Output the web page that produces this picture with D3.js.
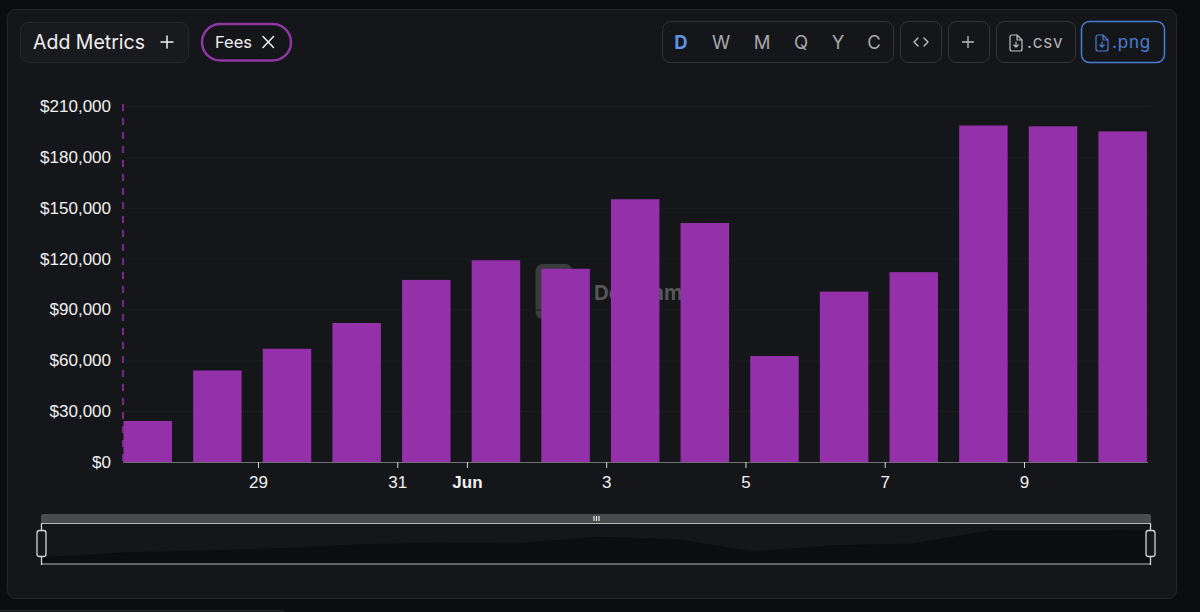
<!DOCTYPE html>
<html>
<head>
<meta charset="utf-8">
<script src="https://cdn.jsdelivr.net/npm/d3@7"></script>
<style>
  html, body { margin: 0; padding: 0; background: #0b0c0e; overflow: hidden; }
  svg { display: block; }
  .ui { font-family: Inter, sans-serif; }
  .axis { font-family: "Liberation Sans", Arial, sans-serif; }
</style>
</head>
<body>
<div id="chart"></div>
<script>
const days = ["2025-05-27","2025-05-28","2025-05-29","2025-05-30","2025-05-31","2025-06-01","2025-06-02","2025-06-03",
              "2025-06-04","2025-06-05","2025-06-06","2025-06-07","2025-06-08","2025-06-09","2025-06-10"];
const fees = [24200,54000,66800,82000,107400,119000,114000,155000,141000,62500,100500,112000,198500,198000,195000];
const yTicks = [0,30000,60000,90000,120000,150000,180000,210000];
const xTickDays = ["2025-05-29","2025-05-31","2025-06-01","2025-06-03","2025-06-05","2025-06-07","2025-06-09"];
const xTickLabels = ["29","31","Jun","3","5","7","9"];
const periods = ["D","W","M","Q","Y","C"];

const width = 1200, height = 612;
const parseDay = d3.utcParse("%Y-%m-%d");
const purple = "#9330aa";
const panel = "#151619";

const svg = d3.select("#chart").append("svg")
    .attr("width", width)
    .attr("height", height);

// panels
svg.append("rect").attr("x", 7.5).attr("y", 9.5).attr("width", 1169).attr("height", 589).attr("rx", 8)
    .attr("fill", panel).attr("stroke", "#26272a");
svg.append("rect").attr("x", -10).attr("y", 610.5).attr("width", 295).attr("height", 20).attr("rx", 4)
    .attr("fill", panel).attr("stroke", "#26272a");

// bars sit 10 hours after midnight on this axis
const barTime = d => d3.utcHour.offset(parseDay(d), 10);
const x = d3.scaleUtc()
    .domain([parseDay("2025-05-29"), parseDay("2025-06-09")])
    .range([258, 1024]);
const y = d3.scaleLinear().domain([0, 210000]).range([462, 106]);
const barWidth = 48.5;

// watermark
const mark = svg.append("g");
mark.append("rect").attr("x", 535.5).attr("y", 264).attr("width", 37).attr("height", 55).attr("rx", 7).attr("fill", "#3a3b3d");
mark.append("text").attr("class", "ui").attr("x", 594).attr("y", 300).attr("font-size", 20.5).attr("font-weight", 700)
    .attr("fill", "#56575a").text("DefiLlama");

// grid
svg.append("g").selectAll("line").data(yTicks.slice(1)).join("line")
    .attr("x1", 123).attr("x2", 1150)
    .attr("y1", d => y(d) + 0.5).attr("y2", d => y(d) + 0.5)
    .attr("stroke", "#1c1d20");

// bars
svg.append("g").selectAll("rect").data(days).join("rect")
    .attr("x", d => x(barTime(d)) - barWidth / 2)
    .attr("y", (d, i) => y(fees[i]))
    .attr("width", barWidth)
    .attr("height", (d, i) => y(0) - y(fees[i]))
    .attr("fill", purple);

// dashed marker on the left edge
svg.append("line").attr("x1", 123).attr("x2", 123).attr("y1", 104).attr("y2", 462)
    .attr("stroke", purple).attr("stroke-width", 1.5).attr("stroke-dasharray", "7 7");

// y axis labels
const yAxis = d3.axisLeft(y).tickValues(yTicks).tickSize(0).tickPadding(0)
    .tickFormat(d => "$" + d3.format(",")(d));
const gy = svg.append("g").attr("class", "axis").attr("transform", "translate(111,0)").call(yAxis);
gy.select(".domain").remove();
gy.selectAll("text").attr("font-size", 17).attr("fill", "#f1f1f1");

// x axis
const xAxis = d3.axisBottom(x)
    .tickValues(xTickDays.map(parseDay))
    .tickSize(6).tickPadding(8)
    .tickFormat((d, i) => xTickLabels[i]);
const gx = svg.append("g").attr("class", "axis").attr("transform", "translate(0,462)").call(xAxis);
gx.select(".domain").attr("d", "M123,0.5H1148").attr("stroke", "#6e6f73");
gx.selectAll("line").attr("stroke", "#d8d8d8");
gx.selectAll("text").attr("font-size", 17).attr("fill", "#f1f1f1")
    .attr("font-weight", (d, i) => xTickLabels[i] === "Jun" ? 700 : 400);

// slider
const miniX = d3.scaleLinear().domain([0, fees.length - 1]).range([42, 1150]);
const miniY = d3.scaleLinear().domain([0, d3.max(fees)]).range([561, 530]);
const miniArea = d3.area()
    .x((d, i) => miniX(i))
    .y0(564)
    .y1(d => miniY(d));
svg.append("path").datum(fees).attr("d", miniArea).attr("fill", "#0c0d0f");
svg.append("rect").attr("x", 41).attr("y", 514).attr("width", 1110).attr("height", 9.5).attr("rx", 2).attr("fill", "#4a4b4d");
[523.5, 564].forEach(v => svg.append("line").attr("x1", 41).attr("x2", 1151).attr("y1", v).attr("y2", v)
    .attr("stroke", "#b4b5b7").attr("stroke-width", 1.2));
[594, 596.5, 599].forEach(v => svg.append("line").attr("x1", v).attr("x2", v).attr("y1", 516).attr("y2", 521)
    .attr("stroke", "#e8e8e8").attr("stroke-width", 1.2));
[41.5, 1150.5].forEach(v => {
  svg.append("line").attr("x1", v).attr("x2", v).attr("y1", 523).attr("y2", 565).attr("stroke", "#d4d4d6").attr("stroke-width", 1.3);
  svg.append("rect").attr("x", v - 4.5).attr("y", 530.5).attr("width", 9).attr("height", 26).attr("rx", 2.5)
      .attr("fill", panel).attr("stroke", "#d4d4d6").attr("stroke-width", 1.3);
});

// header controls
function box(bx, by, w, h, r, stroke, sw) {
  svg.append("rect").attr("x", bx).attr("y", by).attr("width", w).attr("height", h).attr("rx", r)
      .attr("fill", "none").attr("stroke", stroke).attr("stroke-width", sw || 1);
}
function label(t, tx, ty, size, fill, weight, anchor) {
  return svg.append("text").attr("class", "ui").attr("x", tx).attr("y", ty).attr("font-size", size)
      .attr("fill", fill).attr("font-weight", weight || 400).attr("text-anchor", anchor || "start").text(t);
}
function stroke(d, color, sw) {
  svg.append("path").attr("d", d).attr("fill", "none").attr("stroke", color).attr("stroke-width", sw || 1.5)
      .attr("stroke-linecap", "round").attr("stroke-linejoin", "round");
}
function fileIcon(ix, color) {
  stroke(`M${ix},37 a2,2 0 0 1 2,-2 h5 l5,5 v9 a2,2 0 0 1 -2,2 h-8 a2,2 0 0 1 -2,-2 z M${ix + 7},35 v5 h5`, color, 1.2);
  stroke(`M${ix + 6},42 v5 M${ix + 3.8},45 l2.2,2.2 l2.2,-2.2`, color, 1.2);
}

svg.append("rect").attr("x", 20.5).attr("y", 22.5).attr("width", 168).attr("height", 40).attr("rx", 8)
    .attr("fill", "#191a1d").attr("stroke", "#26272a");
label("Add Metrics", 33, 49, 19.5, "#f0f0f0");
stroke("M167,36 V48 M161,42 H173", "#f0f0f0");

svg.append("rect").attr("x", 202).attr("y", 24).attr("width", 89).attr("height", 36.5).attr("rx", 18.2)
    .attr("fill", "none").attr("stroke", "#8e37a3").attr("stroke-width", 2.5);
label("Fees", 215, 48, 16.5, "#f0f0f0");
stroke("M263,36.5 L273.5,47.5 M273.5,36.5 L263,47.5", "#f0f0f0");

box(662.5, 21.5, 231, 41, 8, "#333437");
const periodCentres = [681, 721, 762, 801, 838, 874];
periods.forEach((p, i) => {
  label(p, periodCentres[i], 49, 18.5, i === 0 ? "#5f92e0" : "#a8a9ab", i === 0 ? 700 : 400, "middle");
});
box(900.5, 21.5, 41, 41, 8, "#333437");
stroke("M918,38 L914,42 L918,46 M924,38 L928,42 L924,46", "#c8c8c8", 1.3);
box(948.5, 21.5, 41, 41, 8, "#333437");
stroke("M968,36.5 V47.5 M962.5,42 H973.5", "#c0c0c0", 1.3);
box(996.5, 21.5, 79, 41, 8, "#333437");
fileIcon(1010, "#c0c0c0");
label(".csv", 1027, 48, 17, "#b4b5b7").attr("letter-spacing", 0.8);
box(1081.5, 21.5, 83, 41, 8, "#4a7fd6", 1.5);
fileIcon(1096, "#4a7fd6");
label(".png", 1112, 48, 17, "#4a7fd6").attr("letter-spacing", 0.8);
</script>
</body>
</html>
